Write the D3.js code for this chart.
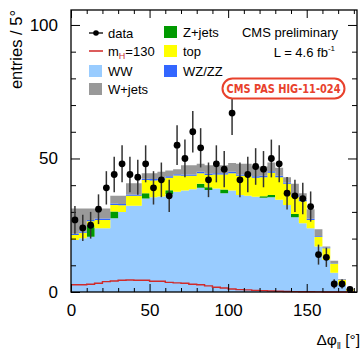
<!DOCTYPE html>
<html><head><meta charset="utf-8">
<script src="https://cdn.jsdelivr.net/npm/d3@7"></script>
<style>body{margin:0;background:#fff}svg{display:block}text{font-family:"Liberation Sans",Arial,Helvetica,sans-serif}</style>
</head><body>
<script>
// bins of 5 degrees, 0..180
const binEdges = d3.range(0, 185, 5);
const dataCounts = [27,24,25,31,39,44,48,44,43,48,39,42,36,55,50,60,54,42,48,46,67,42,44,47,46,50,48,37,36,35,32,14,13,3,3,1];
const WW    = [19.5,20.1,20.7,23.9,23.9,27.6,30,32.3,32.3,35,35.5,35.8,36.6,37.5,38,38.5,39,38.2,38.8,37,38,36.3,36,35.7,35.3,35.5,34.5,32.6,28,25.7,23.9,17,12,7.2,2.6,0.5];
const Zjets = [0,0,4.3,0,0,2.5,0,0,0,2,0,0,1.5,0,0,0,1.5,1,0,1.4,0,0,0,0,0.6,0.8,0,0,1.2,0,0,0,0,0,0,0];
const top_  = [1.8,2.1,1.5,3.1,3.1,2.5,2.5,3.7,3.7,4.9,6.3,6.2,4.7,6.1,5.5,5,4,4.6,5.2,5.6,6.5,7.2,7.5,7.1,7.1,8.4,8.5,7.9,6.5,8.3,3.1,3.7,4.4,3.5,1.9,0.5];
const WZZZ  = [0.5,0.5,0.5,0.5,0.5,0.5,0.5,0.5,0.5,0.5,0.5,0.5,0.5,0.5,0.5,0.5,0.5,0.5,0.5,0.5,0.5,0.5,0.5,0.5,0.5,0.5,0.5,0.5,0.5,0.5,0.4,0.3,0.3,0.2,0.1,0];
const Wjets = [9.5,8.6,4.3,3.8,3.8,2.9,3.0,4.2,4.2,2.1,2.2,2.5,2.2,1.9,3.5,3.5,3,3.2,3,3,3.3,4,4,3.7,3.5,3.3,3,2,4.3,2.5,3.6,2.5,0.3,0.8,0.3,0];
const signal= [2.7,2.7,2.9,3.3,3.9,4.1,4.4,4.5,4.4,4.4,4.0,4.0,3.6,3.4,3.3,2.9,2.7,2.3,1.8,1.5,1.1,0.9,0.8,0.6,0.5,0.4,0.3,0.2,0.15,0.1,0.1,0.05,0,0,0,0];
const xTicks = [0,50,100,150];
const yTicks = [0,50,100];

const W = 362, H = 351;
const L = 71, R = 357, T = 10, B = 292;
const svg = d3.select("body").append("svg").attr("width", W).attr("height", H);
const x = d3.scaleLinear().domain([0,182]).range([L,R]);
const y = d3.scaleLinear().domain([0,105.6]).range([B,T]);

const layers = [
  {name:"WW", vals:WW, color:"#99ccff"},
  {name:"Z+jets", vals:Zjets, color:"#009a00"},
  {name:"top", vals:top_, color:"#ffff00"},
  {name:"WZ/ZZ", vals:WZZZ, color:"#3366ff"},
  {name:"W+jets", vals:Wjets, color:"#999999"}
];
const n = dataCounts.length;
const rows = d3.range(n).map(i => {
  const r = {i};
  layers.forEach(l => r[l.name] = l.vals[i]);
  return r;
});
const stack = d3.stack().keys(layers.map(l => l.name))(rows);

const area = d3.area()
  .x(d => x(d.e))
  .y0(d => y(d.y0)).y1(d => y(d.y1))
  .curve(d3.curveStepAfter);

stack.forEach((s, k) => {
  const pts = s.map((d, i) => ({e: binEdges[i], y0: d[0], y1: d[1]}));
  pts.push({e: binEdges[n], y0: s[n-1][0], y1: s[n-1][1]});
  svg.append("path").attr("d", area(pts)).attr("fill", layers[k].color).attr("stroke", "none");
});

// signal
const sigPts = signal.map((v,i) => ({e: binEdges[i], v}));
sigPts.push({e: binEdges[n], v: signal[n-1]});
svg.append("path")
  .attr("d", d3.line().x(d => x(d.e)).y(d => y(d.v)).curve(d3.curveStepAfter)(sigPts))
  .attr("fill","none").attr("stroke","#d02a2a").attr("stroke-width",1.4);

// axes with ticks on all sides (inward)
const g = svg.append("g");
const minorX = d3.range(0, 181, 10).filter(v => v % 50 !== 0);
const minorY = d3.range(0, 105, 10).filter(v => v % 50 !== 0);
g.append("g").attr("transform",`translate(0,${B})`)
  .call(d3.axisBottom(x).tickValues(xTicks).tickSize(-8).tickPadding(12).tickFormat(d3.format("d")));
g.append("g").attr("transform",`translate(0,${B})`)
  .call(d3.axisBottom(x).tickValues(minorX).tickSize(-4).tickFormat(""));
g.append("g").attr("transform",`translate(0,${T})`)
  .call(d3.axisTop(x).tickValues(xTicks).tickSize(-8).tickFormat(""));
g.append("g").attr("transform",`translate(0,${T})`)
  .call(d3.axisTop(x).tickValues(minorX).tickSize(-4).tickFormat(""));
g.append("g").attr("transform",`translate(${L},0)`)
  .call(d3.axisLeft(y).tickValues(yTicks).tickSize(-9).tickPadding(13).tickFormat(d3.format("d")));
g.append("g").attr("transform",`translate(${L},0)`)
  .call(d3.axisLeft(y).tickValues(minorY).tickSize(-5).tickFormat(""));
g.append("g").attr("transform",`translate(${R},0)`)
  .call(d3.axisRight(y).tickValues(yTicks).tickSize(-9).tickFormat(""));
g.append("g").attr("transform",`translate(${R},0)`)
  .call(d3.axisRight(y).tickValues(minorY).tickSize(-5).tickFormat(""));
g.selectAll(".domain").remove();
g.selectAll(".tick line").attr("stroke","#000").attr("stroke-width",1);
g.selectAll(".tick text").attr("font-size",17).attr("fill","#000")
  .attr("font-family",'"Liberation Sans",Arial,sans-serif');
svg.append("rect").attr("x",L).attr("y",T).attr("width",R-L).attr("height",B-T)
  .attr("fill","none").attr("stroke","#000").attr("stroke-width",1.3);

// data points
const dp = svg.append("g");
dataCounts.forEach((v,i) => {
  const cx = x(binEdges[i] + 2.5);
  const e = Math.sqrt(v);
  dp.append("line").attr("x1",cx).attr("x2",cx).attr("y1",y(v+e)).attr("y2",y(Math.max(0,v-e)))
    .attr("stroke","#333").attr("stroke-width",1.5);
  dp.append("circle").attr("cx",cx).attr("cy",y(v)).attr("r",3.4).attr("fill","#000");
});

// legend
const lg = svg.append("g").attr("font-size",13);
const leftItems = [
  {label:"data", type:"data", y:33},
  {label:"m", sub:"H", rest:"=130", type:"line", y:51},
  {label:"WW", type:"box", color:"#99ccff", y:71},
  {label:"W+jets", type:"box", color:"#999999", y:89}
];
leftItems.forEach(it => {
  if (it.type === "data") {
    lg.append("line").attr("x1",89).attr("x2",103).attr("y1",it.y).attr("y2",it.y).attr("stroke","#000").attr("stroke-width",1.3);
    lg.append("circle").attr("cx",96).attr("cy",it.y).attr("r",2.8).attr("fill","#000");
  } else if (it.type === "line") {
    lg.append("line").attr("x1",89).attr("x2",103).attr("y1",it.y).attr("y2",it.y).attr("stroke","#d84a4a").attr("stroke-width",1.8);
  } else {
    lg.append("rect").attr("x",89).attr("y",it.y-6).attr("width",13).attr("height",12).attr("fill",it.color);
  }
  const t = lg.append("text").attr("x",108).attr("y",it.y+5).attr("fill","#000");
  t.append("tspan").text(it.label);
  if (it.sub) {
    t.append("tspan").attr("font-size",9).attr("dy",3).attr("fill","#c33").text(it.sub);
    t.append("tspan").attr("dy",-3).text(it.rest);
  }
});
const rightItems = [
  {label:"Z+jets", color:"#009a00", y:32},
  {label:"top", color:"#ffff00", y:51},
  {label:"WZ/ZZ", color:"#3366ff", y:71}
];
rightItems.forEach(it => {
  lg.append("rect").attr("x",164).attr("y",it.y-6).attr("width",13).attr("height",12).attr("fill",it.color);
  lg.append("text").attr("x",183).attr("y",it.y+5).attr("fill","#000").text(it.label);
});

svg.append("text").attr("x",338).attr("y",37).attr("text-anchor","end").attr("font-size",13).text("CMS preliminary");
const lt = svg.append("text").attr("x",335).attr("y",57).attr("text-anchor","end").attr("font-size",13);
lt.append("tspan").text("L = 4.6 fb");
lt.append("tspan").attr("font-size",8).attr("dy",-6).text("-1");

// PAS label
svg.append("rect").attr("x",222.5).attr("y",78.5).attr("width",122).attr("height",20).attr("rx",10)
  .attr("fill","#fff").attr("stroke","#e8412c").attr("stroke-width",2);
svg.append("text").attr("x",283.5).attr("y",93).attr("text-anchor","middle")
  .attr("font-size",13).attr("font-weight","bold").attr("fill","#e8412c")
  .style("font-family",'"Liberation Sans Narrow","DejaVu Sans Condensed",sans-serif')
  .attr("textLength",114).attr("lengthAdjust","spacingAndGlyphs")
  .text("CMS PAS HIG-11-024");

// axis titles
svg.append("text").attr("transform","translate(22,10) rotate(-90)").attr("text-anchor","end")
  .attr("font-size",16.5).text("entries / 5°");
const xt = svg.append("text").attr("x",360).attr("y",345).attr("text-anchor","end").attr("font-size",15.5);
xt.append("tspan").text("Δφ");
xt.append("tspan").attr("font-size",9).attr("dy",4).text("ll");
xt.append("tspan").attr("dy",-4).text(" [°]");
</script>
</body></html>
